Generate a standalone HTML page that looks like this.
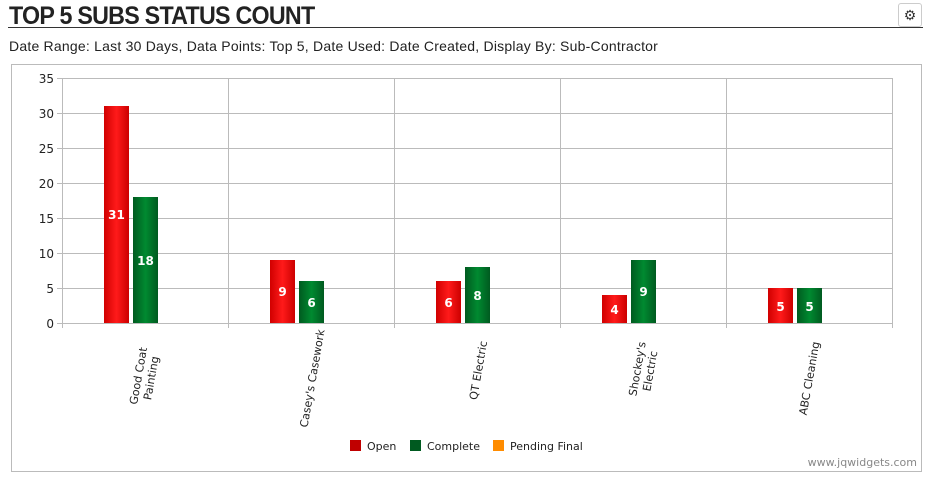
<!DOCTYPE html>
<html><head><meta charset="utf-8"><style>
body{margin:0;background:#fff;width:934px;height:481px;overflow:hidden;position:relative;font-family:"Liberation Sans",Arial,sans-serif}
.t{position:absolute;left:9px;top:2px;font-size:25px;color:#222;letter-spacing:-0.8px;font-weight:bold;transform:scaleX(0.93);transform-origin:left}
.hr{position:absolute;left:8px;top:27px;width:915px;height:1px;background:#333}
.g{position:absolute;left:898px;top:3px;width:22px;height:22px;border:1px solid #ccc;border-radius:3px;font-size:14px;text-align:center;line-height:22px;color:#333}
.s{position:absolute;left:9px;top:38px;font-size:14px;color:#222;letter-spacing:0.22px}
</style></head><body>
<div class="t">TOP 5 SUBS STATUS COUNT</div>
<div class="hr"></div>
<div class="g">⚙</div>
<div class="s">Date Range: Last 30 Days, Data Points: Top 5, Date Used: Date Created, Display By: Sub-Contractor</div>
<svg width="934" height="481" style="position:absolute;left:0;top:0" font-family="'DejaVu Sans',Verdana,sans-serif">
<defs>
<linearGradient id="r" x1="0" x2="1"><stop offset="0" stop-color="#d00000"/><stop offset="0.5" stop-color="#ff1a1a"/><stop offset="1" stop-color="#cc0000"/></linearGradient>
<linearGradient id="gr" x1="0" x2="1"><stop offset="0" stop-color="#005a20"/><stop offset="0.5" stop-color="#008a30"/><stop offset="1" stop-color="#005a20"/></linearGradient>
</defs>
<rect x="11.5" y="64.5" width="910" height="407" fill="none" stroke="#bbb"/>
<g stroke="#bbb" stroke-width="1">
<line x1="62" y1="78.5" x2="893" y2="78.5"/><line x1="62" y1="113.5" x2="893" y2="113.5"/><line x1="62" y1="148.5" x2="893" y2="148.5"/><line x1="62" y1="183.5" x2="893" y2="183.5"/><line x1="62" y1="218.5" x2="893" y2="218.5"/><line x1="62" y1="253.5" x2="893" y2="253.5"/><line x1="62" y1="288.5" x2="893" y2="288.5"/><line x1="62" y1="323.5" x2="893" y2="323.5"/>
<line x1="62.5" y1="78" x2="62.5" y2="328"/><line x1="228.5" y1="78" x2="228.5" y2="328"/><line x1="394.5" y1="78" x2="394.5" y2="328"/><line x1="560.5" y1="78" x2="560.5" y2="328"/><line x1="726.5" y1="78" x2="726.5" y2="328"/><line x1="892.5" y1="78" x2="892.5" y2="328"/>
<line x1="57" y1="78.5" x2="62" y2="78.5"/><line x1="57" y1="113.5" x2="62" y2="113.5"/><line x1="57" y1="148.5" x2="62" y2="148.5"/><line x1="57" y1="183.5" x2="62" y2="183.5"/><line x1="57" y1="218.5" x2="62" y2="218.5"/><line x1="57" y1="253.5" x2="62" y2="253.5"/><line x1="57" y1="288.5" x2="62" y2="288.5"/><line x1="57" y1="323.5" x2="62" y2="323.5"/>
</g>
<g font-size="12" fill="#222" text-anchor="end">
<text x="54" y="83">35</text><text x="54" y="118">30</text><text x="54" y="153">25</text><text x="54" y="188">20</text><text x="54" y="223">15</text><text x="54" y="258">10</text><text x="54" y="293">5</text><text x="54" y="328">0</text>
</g>
<g>
<rect x="104" y="106" width="25" height="217" fill="url(#r)"/><rect x="133" y="197" width="25" height="126" fill="url(#gr)"/>
<rect x="270" y="260" width="25" height="63" fill="url(#r)"/><rect x="299" y="281" width="25" height="42" fill="url(#gr)"/>
<rect x="436" y="281" width="25" height="42" fill="url(#r)"/><rect x="465" y="267" width="25" height="56" fill="url(#gr)"/>
<rect x="602" y="295" width="25" height="28" fill="url(#r)"/><rect x="631" y="260" width="25" height="63" fill="url(#gr)"/>
<rect x="768" y="288" width="25" height="35" fill="url(#r)"/><rect x="797" y="288" width="25" height="35" fill="url(#gr)"/>
</g>
<g font-size="12" fill="#fff" font-weight="bold" text-anchor="middle">
<text x="116.5" y="219">31</text><text x="145.5" y="265">18</text>
<text x="282.5" y="296">9</text><text x="311.5" y="307">6</text>
<text x="448.5" y="307">6</text><text x="477.5" y="300">8</text>
<text x="614.5" y="314">4</text><text x="643.5" y="296">9</text>
<text x="780.5" y="311">5</text><text x="809.5" y="311">5</text>
</g>
<g font-size="11" fill="#222" text-anchor="middle">
<text transform="translate(145,377) rotate(-80)"><tspan x="0" y="-3">Good Coat</tspan><tspan x="0" y="10">Painting</tspan></text>
<text transform="translate(316,379) rotate(-80)">Casey's Casework</text>
<text transform="translate(482,371) rotate(-80)">QT Electric</text>
<text transform="translate(644,370) rotate(-80)"><tspan x="0" y="-3">Shockey's</tspan><tspan x="0" y="10">Electric</tspan></text>
<text transform="translate(813,379) rotate(-80)">ABC Cleaning</text>
</g>
<g font-size="11" fill="#222">
<rect x="350" y="440" width="11" height="11" fill="#c00000"/><text x="367" y="450">Open</text>
<rect x="410" y="440" width="11" height="11" fill="#005a20"/><text x="427" y="450">Complete</text>
<rect x="493" y="440" width="11" height="11" fill="#ff8c00"/><text x="510" y="450">Pending Final</text>
</g>
<text x="917" y="466" font-size="11" fill="#888" text-anchor="end">www.jqwidgets.com</text>
</svg>
</body></html>
